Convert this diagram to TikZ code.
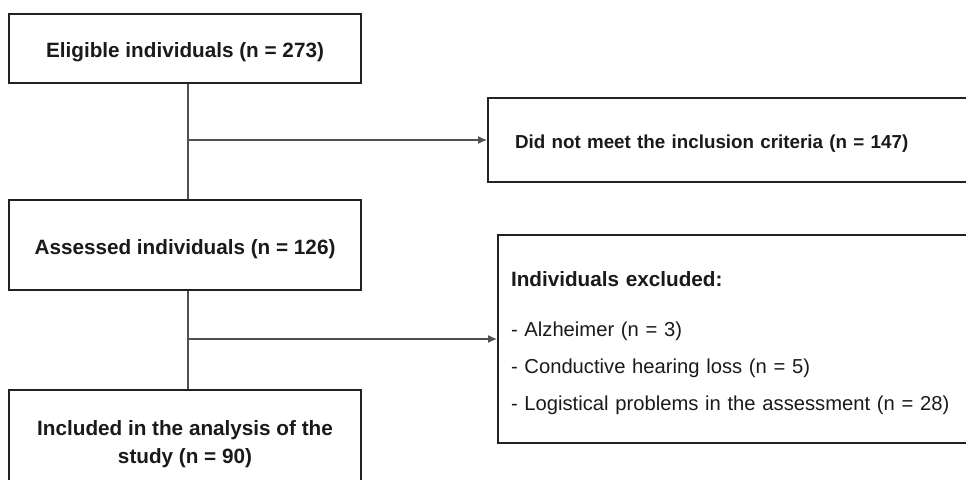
\documentclass[tikz,border=0pt]{standalone}
\usepackage{fontspec}
\setmainfont{Liberation Sans}
\usetikzlibrary{arrows.meta}

% taller first line, so that the text sits a little low in its box
\newcommand{\dropstrut}[1][11.6pt]{\rule{0pt}{#1}}

\begin{document}
\begin{tikzpicture}[x = 0.5pt, y = -0.5pt,
    box/.style = {draw = boxColor, line width = 1pt, fill = white, text = textColor,
                  inner sep = 0pt, font = \fontsize{10.35}{14}\selectfont\bfseries},
    sidebox/.style = {box, align = left, inner xsep = 13.5pt},
    link/.style = {draw = lineColor, line width = 0.6pt},
    tip/.style = {-{Latex[length = 4.5pt, width = 4pt]}}]
            % \draw [help lines, step = 50] (0,0) grid (966,479);

            \definecolor{boxColor}{RGB}{34,34,34};
            \definecolor{lineColor}{RGB}{80,80,80};
            \definecolor{textColor}{RGB}{26,26,26};

            \clip (0,0) rectangle (966,479);
            \fill[white] (0,0) rectangle (966,479);

            % main column
            \node [box, minimum width = 176pt, minimum height = 34.5pt] (elig) at (185,48.5) {\dropstrut Eligible individuals (n = 273)};
            \node [box, minimum width = 176pt, minimum height = 45pt] (assess) at (185,245) {\dropstrut Assessed individuals (n = 126)};
            \node [box, align = center, minimum width = 176pt, minimum height = 51pt] (incl) at (185,441) {\dropstrut[10.6pt]Included in the analysis of the\\study (n = 90)};

            % side boxes
            \node [sidebox, text width = 229pt, minimum height = 42pt,
                   font = \fontsize{9.4}{12}\selectfont\bfseries] (notmet) at (744,140) {\dropstrut[10.8pt]Did not meet the inclusion criteria (n = 147)};
            \node [sidebox, inner xsep = 6.5pt, text width = 238pt, minimum height = 104pt,
                   font = \fontsize{10.1}{18.5}\selectfont] (excl) at (749,339)
                  {\dropstrut[12pt]{\fontsize{10.35}{18.5}\selectfont\bfseries Individuals excluded:}\\[6.5pt]
                   - Alzheimer (n = 3)\\
                   - Conductive hearing loss (n = 5)\\
                   - Logistical problems in the assessment (n = 28)};

            % stems sit a little right of the box centres
            \coordinate (stem1a) at ([xshift = 1.5pt]elig.south);
            \coordinate (stem1b) at (stem1a |- assess.north);
            \coordinate (stem2a) at ([xshift = 1.5pt]assess.south);
            \coordinate (stem2b) at (stem2a |- incl.north);
            \coordinate (split1) at (stem1a |- notmet.west);
            \coordinate (split2) at (stem2a |- excl.west);

            \draw [link] (stem1a) -- (stem1b);
            \draw [link] (stem2a) -- (stem2b);
            \draw [link, tip] (split1) -- (notmet.west);
            \draw [link, tip] (split2) -- (excl.west);

\end{tikzpicture}
\end{document}
